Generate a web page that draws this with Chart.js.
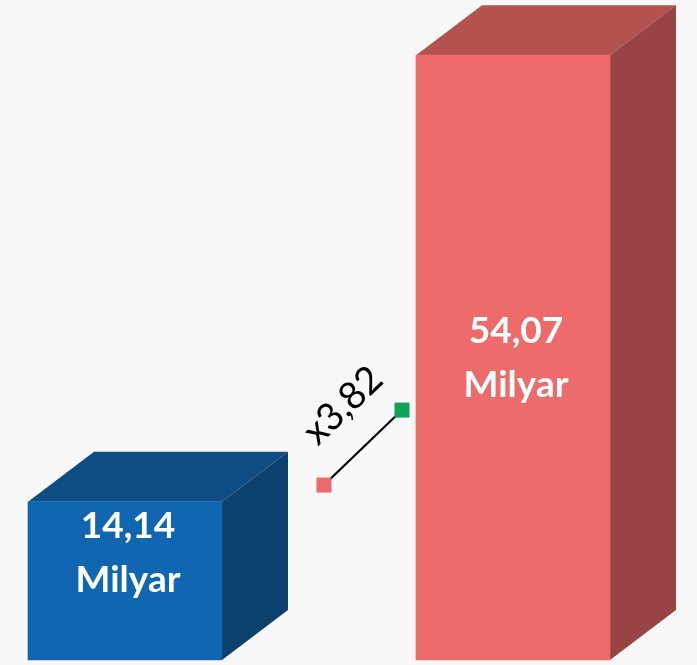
<!DOCTYPE html>
<html>
<head>
<meta charset="utf-8">
<script src="https://cdn.jsdelivr.net/npm/chart.js@4.4.1/dist/chart.umd.min.js"></script>
<style>
  html, body { margin: 0; padding: 0; background: #f8f8f8; }
  #chart { display: block; }
</style>
</head>
<body>
<canvas id="chart" width="697" height="665"></canvas>
<script>
const categories = ['2019', '2023'];
const values = [14.14, 54.07];
const unitLabel = 'Milyar';

const frontColors = ['#1066b0', '#ee6b6b'];
const topColors = ['#0e4e85', '#b45250'];
const sideColors = ['#0c406d', '#984344'];

const DEPTH_X = 66;
const DEPTH_Y = 50;

function fmt(v) {
    return v.toFixed(2).replace('.', ',');
}

const cubePlugin = {
    id: 'cube',
    beforeDatasetsDraw(chart) {
        const ctx = chart.ctx;
        const meta = chart.getDatasetMeta(0);
        meta.data.forEach((bar, i) => {
            const p = bar.getProps(['x', 'y', 'base', 'width'], true);
            const l = p.x - p.width / 2;
            const r = p.x + p.width / 2;
            ctx.save();
            // top face
            ctx.fillStyle = topColors[i];
            ctx.beginPath();
            ctx.moveTo(l, p.y);
            ctx.lineTo(r, p.y);
            ctx.lineTo(r + DEPTH_X, p.y - DEPTH_Y);
            ctx.lineTo(l + DEPTH_X, p.y - DEPTH_Y);
            ctx.closePath();
            ctx.fill();
            // side face
            ctx.fillStyle = sideColors[i];
            ctx.beginPath();
            ctx.moveTo(r, p.y);
            ctx.lineTo(r + DEPTH_X, p.y - DEPTH_Y);
            ctx.lineTo(r + DEPTH_X, p.base - DEPTH_Y);
            ctx.lineTo(r, p.base);
            ctx.closePath();
            ctx.fill();
            ctx.restore();
        });
    },
    afterDatasetsDraw(chart) {
        const ctx = chart.ctx;
        const meta = chart.getDatasetMeta(0);
        const bars = meta.data.map(b => b.getProps(['x', 'y', 'base', 'width'], true));

        // value labels
        ctx.save();
        ctx.fillStyle = '#ffffff';
        ctx.font = 'bold 37px Lato, "Open Sans", sans-serif';
        ctx.textAlign = 'center';
        ctx.textBaseline = 'middle';
        bars.forEach((p, i) => {
            const mid = (p.y + p.base) / 2;
            const cy = i === 0 ? p.y + 51 : mid;
            ctx.fillText(fmt(values[i]), p.x + 3, cy - 27);
            ctx.fillText(unitLabel, p.x + 3, cy + 27);
        });
        ctx.restore();

        // ratio connector between the bars
        const yScale = chart.scales.y;
        const x1 = bars[0].x + bars[0].width / 2 + 102;
        const x2 = bars[1].x - bars[1].width / 2 - 14;
        const y1 = yScale.getPixelForValue(values[0] * 1.106);
        const y2 = yScale.getPixelForValue(values[0] * 1.58);
        ctx.save();
        ctx.strokeStyle = '#000';
        ctx.lineWidth = 2.2;
        ctx.beginPath();
        ctx.moveTo(x1, y1);
        ctx.lineTo(x2, y2);
        ctx.stroke();
        const s = 15;
        ctx.fillStyle = frontColors[1];
        ctx.fillRect(x1 - s / 2, y1 - s / 2, s, s);
        ctx.fillStyle = '#0ea35a';
        ctx.fillRect(x2 - s / 2, y2 - s / 2, s, s);

        const ang = Math.atan2(y2 - y1, x2 - x1);
        ctx.translate((x1 + x2) / 2 - 20, (y1 + y2) / 2 - 42);
        ctx.rotate(ang);
        ctx.fillStyle = '#000';
        ctx.font = '38px Lato, "Open Sans", sans-serif';
        ctx.textAlign = 'center';
        ctx.textBaseline = 'middle';
        ctx.fillText('x' + fmt(values[1] / values[0]), 0, 0);
        ctx.restore();
    }
};

new Chart(document.getElementById('chart'), {
    type: 'bar',
    data: {
        labels: categories,
        datasets: [{
            data: values,
            backgroundColor: frontColors,
            borderWidth: 0,
            barThickness: 194,
            clip: false
        }]
    },
    options: {
        responsive: false,
        devicePixelRatio: 1,
        animation: false,
        layout: { padding: { left: 125, right: 184, top: 0, bottom: 5 } },
        plugins: {
            legend: { display: false },
            tooltip: { enabled: false }
        },
        scales: {
            x: { display: false, offset: false },
            y: { display: false, min: 0, max: 59 }
        }
    },
    plugins: [cubePlugin]
});
</script>
</body>
</html>
